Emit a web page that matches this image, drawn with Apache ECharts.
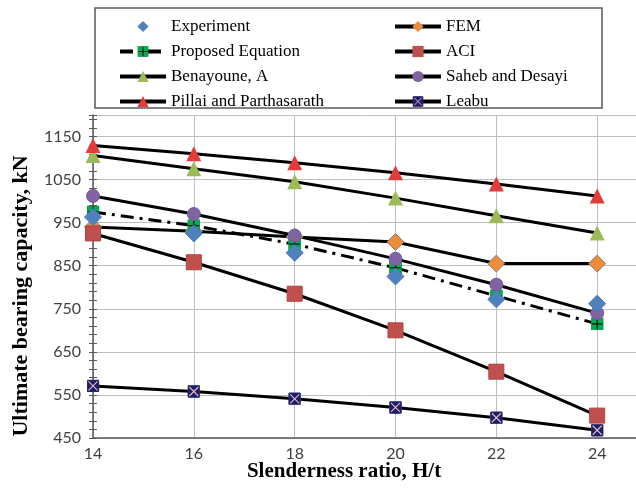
<!DOCTYPE html>
<html>
<head>
<meta charset="utf-8">
<script src="https://cdn.jsdelivr.net/npm/echarts@6/dist/echarts.min.js"></script>
<style>
  html, body { margin: 0; padding: 0; background: #ffffff; }
  #chart { width: 636px; height: 489px; }
</style>
</head>
<body>
<div id="chart"></div>
<script>
// Slenderness ratio H/t on the x axis
var slenderness = [14, 16, 18, 20, 22, 24];

// Ultimate bearing capacity (kN) by method
var experiment = [963, 925, 880, 825, 772, 762];
var fem        = [940, 930, 917, 905, 855, 855];
var proposed   = [975, 943, 900, 845, 780, 715];
var aci        = [925, 858, 785, 700, 604, 502];
var benayoune  = [1106, 1075, 1045, 1007, 966, 926];
var saheb      = [1012, 970, 920, 866, 806, 740];
var pillai     = [1129, 1110, 1089, 1066, 1040, 1012];
var leabu      = [571, 558, 541, 521, 497, 468];

var legendLeft  = ['Experiment', 'Proposed Equation', 'Benayoune, A', 'Pillai and Parthasarath'];
var legendRight = ['FEM', 'ACI', 'Saheb and Desayi', 'Leabu'];

function pairs(values) {
  return slenderness.map(function (x, i) { return [x, values[i]]; });
}

function svgSymbol(svg) {
  return 'image://data:image/svg+xml;charset=utf-8,' + encodeURIComponent(svg);
}

// green square with a dark cross
var crossSquare = svgSymbol(
  "<svg xmlns='http://www.w3.org/2000/svg' width='26' height='26' viewBox='0 0 26 26'>" +
  "<rect x='1' y='1' width='24' height='24' fill='#00B050' stroke='#0B8F3F' stroke-width='1.5'/>" +
  "<path d='M13 2V24M2 13H24' stroke='#141414' stroke-width='2.6'/></svg>");

// navy square with a pale X
var xSquare = svgSymbol(
  "<svg xmlns='http://www.w3.org/2000/svg' width='26' height='26' viewBox='0 0 26 26'>" +
  "<rect x='1' y='1' width='24' height='24' rx='2' fill='#1E1F5E' stroke='#2E3080' stroke-width='1.5'/>" +
  "<path d='M4 4L22 22M22 4L4 22' stroke='#E9B7D2' stroke-width='2.2'/></svg>");

var blackLine = { color: '#000000', width: 3 };

function lineSeries(name, values, symbol, size, itemStyle, lineStyle) {
  return {
    name: name,
    type: 'line',
    data: pairs(values),
    symbol: symbol,
    symbolSize: size,
    showSymbol: true,
    itemStyle: itemStyle,
    lineStyle: lineStyle || blackLine,
    emphasis: { disabled: true },
    animation: false
  };
}

var series = [
  lineSeries('FEM', fem, 'diamond', 17, { color: '#EE8C3C', borderColor: '#7F7F7F', borderWidth: 1 }),
  lineSeries('ACI', aci, 'rect', 15, { color: '#C0504D', borderColor: '#B04340', borderWidth: 1 }),
  lineSeries('Leabu', leabu, xSquare, 13, { color: '#1E1F5E' }),
  lineSeries('Benayoune, A', benayoune, 'triangle', 15, { color: '#9BBB59' }),
  lineSeries('Pillai and Parthasarath', pillai, 'triangle', 15, { color: '#E23B3B' }),
  lineSeries('Proposed Equation', proposed, crossSquare, 13, { color: '#00B050' },
             { color: '#000000', width: 3, type: [13, 6, 3, 6] }),
  lineSeries('Saheb and Desayi', saheb, 'circle', 13, { color: '#8064A2', borderColor: '#7358A0', borderWidth: 1 }),
  lineSeries('Experiment', experiment, 'diamond', 17, { color: '#4F81BD', borderColor: '#4A7AB8', borderWidth: 1 },
             { color: '#000000', width: 0, opacity: 0 })
];

var legendText = { fontFamily: 'Liberation Serif', fontSize: 17, color: '#000000', lineHeight: 17 };

function legendColumn(names, left) {
  return {
    data: names,
    orient: 'vertical',
    left: left,
    top: 18,
    padding: 0,
    itemGap: 8,
    itemWidth: 46,
    itemHeight: 14,
    itemStyle: { borderWidth: 0 },
    lineStyle: { width: 4 },
    textStyle: legendText,
    selectedMode: false
  };
}

var yTicks = {
  type: 'value',
  min: 450,
  max: 1200,
  interval: 20,
  position: 'left',
  axisLine: { show: false },
  axisLabel: { show: false },
  splitLine: { show: false }
};

var option = {
  animation: false,
  backgroundColor: '#ffffff',
  grid: { left: 93, top: 115, right: 0, bottom: 51, containLabel: false },
  legend: [legendColumn(legendLeft, 118), legendColumn(legendRight, 393)],
  xAxis: {
    type: 'value',
    min: 14,
    max: 24.77,
    interval: 2,
    axisLine: { lineStyle: { color: '#595959', width: 1.5 } },
    axisTick: { show: false },
    axisLabel: {
      margin: 8,
      showMaxLabel: false,
      fontFamily: 'Lato',
      fontSize: 16,
      color: '#404040',
      formatter: function (v) { return String(v); }
    },
    splitLine: { show: true, lineStyle: { color: '#BFBFBF', width: 1 } }
  },
  yAxis: [
    {
      type: 'value',
      min: 450,
      max: 1200,
      interval: 100,
      position: 'left',
      axisLine: { show: true, lineStyle: { color: '#595959', width: 1.5 } },
      axisTick: { show: false },
      axisLabel: {
        margin: 12,
        showMaxLabel: false,
        fontFamily: 'Lato',
        fontSize: 16,
        color: '#404040',
        formatter: function (v) { return String(v); }
      },
      splitLine: { show: true, lineStyle: { color: '#BFBFBF', width: 1 } }
    },
    Object.assign({}, yTicks, {
      axisTick: { show: true, inside: false, length: 4, lineStyle: { color: '#595959', width: 1 } }
    }),
    Object.assign({}, yTicks, {
      axisTick: { show: true, inside: true, length: 4, lineStyle: { color: '#595959', width: 1 } }
    })
  ],
  graphic: [
    {
      type: 'rect',
      shape: { x: 95, y: 8, width: 507, height: 100 },
      style: { fill: 'none', stroke: '#5A5A5A', lineWidth: 1.5 },
      z: -1
    },
    {
      type: 'text',
      x: 21,
      y: 296,
      rotation: Math.PI / 2,
      style: {
        text: 'Ultimate bearing capacity, kN',
        font: 'bold 22px "Liberation Serif"',
        fill: '#000000',
        align: 'center',
        verticalAlign: 'middle'
      }
    },
    {
      type: 'text',
      x: 344,
      y: 472,
      style: {
        text: 'Slenderness ratio, H/t',
        font: 'bold 21px "Liberation Serif"',
        fill: '#000000',
        align: 'center',
        verticalAlign: 'middle'
      }
    }
  ],
  series: series
};

var chart = echarts.init(document.getElementById('chart'), null, { renderer: 'canvas' });
chart.setOption(option);
</script>
</body>
</html>
